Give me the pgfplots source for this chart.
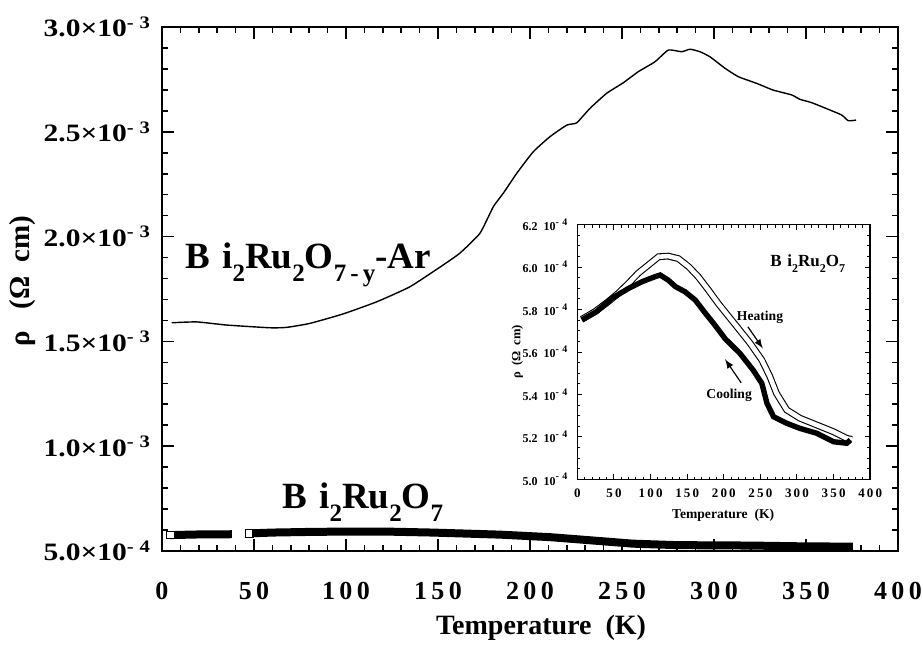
\documentclass[border=0pt]{standalone}
\usepackage{fontspec}
\setmainfont{Liberation Serif}
\newfontfamily\wide[FakeStretch=1.18]{Liberation Serif}
\usepackage{pgfplots}
\pgfplotsset{compat=1.18}
\newcommand\ex[1]{\textsuperscript{-\,\,#1}}
\newcommand\bigsub[1]{\raisebox{-6.5pt}{\fontsize{12.5}{12}\selectfont #1}}
\newcommand\smallsub[1]{\raisebox{-3pt}{\fontsize{6}{6}\selectfont #1}}
\begin{document}
\begin{tikzpicture}
\useasboundingbox (-81pt,-47pt) rectangle (380.5pt,275.5pt);
\begin{axis}[
  at={(0pt,0pt)}, anchor=south west,
  scale only axis, width=368pt, height=262pt,
  xmin=0, xmax=400, ymin=5, ymax=30,
  xtick={0,50,...,400}, minor x tick num=4,
  ytick={5,10,...,30}, minor y tick num=4,
  xticklabels={0,5\,0,1\,0\,0,1\,5\,0,2\,0\,0,2\,5\,0,3\,0\,0,3\,5\,0,4\,0\,0},
  yticklabels={5.0×10\ex{4},1.0×10\ex{3},1.5×10\ex{3},2.0×10\ex{3},2.5×10\ex{3},3.0×10\ex{3}},
  tick align=inside,
  major tick length=6pt, minor tick length=3pt,
  axis line style={line width=1pt},
  every tick/.style={black, line width=0.8pt},
  xticklabel style={font=\bfseries\fontsize{13}{13}\selectfont, yshift=-12pt},
  yticklabel style={font=\wide\bfseries\fontsize{12.5}{13}\selectfont, xshift=-2pt},
  xlabel={Temperature\ \ (K)},
  ylabel={ρ\ \ \ (Ω\ \ cm)},
  every axis x label/.style={at={(axis description cs:0.515,-0.146)}, anchor=center, font=\bfseries\fontsize{14}{14}\selectfont},
  every axis y label/.style={at={(axis description cs:-0.189,0.515)}, anchor=center, rotate=90, font=\bfseries\fontsize{14.5}{14}\selectfont},
  clip=false,
]
% Bi2Ru2O7-y-Ar (units 1e-4 Ohm cm)
\addplot[black, line width=0.7pt, smooth, tension=0.3] coordinates {
(5.3,15.89)(18.9,15.93)(35.2,15.78)(58.7,15.65)(67.8,15.67)(80.4,15.86)
(98.4,16.31)(116.7,16.89)(134.8,17.61)(152.7,18.64)(162,19.22)(172.8,20.16)
(180.1,21.43)(185.5,22.07)(192.8,23.02)(201.8,24.05)(210.9,24.77)(220,25.32)
(225.4,25.43)(232.6,26.12)(241.7,26.84)(250.7,27.34)(258.9,27.87)(267.9,28.34)
(275.2,28.90)(282.4,28.82)(287,28.94)(292.4,28.82)(297.8,28.58)(306,28.03)
(313.2,27.63)(323.2,27.31)(332.2,26.99)(342.2,26.76)(346.7,26.55)(353.1,26.39)
(363,26.04)(369.4,25.80)(373,25.53)(377.2,25.56)};
% Bi2Ru2O7 band
\addplot[black, line width=4pt] coordinates {(4.7,5.76)(20,5.79)(38,5.80)};
\addplot[black, line width=4pt] coordinates {
(47.5,5.84)(60,5.88)(80,5.91)(102,5.93)(120,5.93)(147,5.88)(184,5.78)(211,5.66)
(230,5.53)(256,5.35)(280,5.28)(320,5.26)(350,5.22)(375.5,5.21)};
\addplot[only marks, mark=square*, mark size=1.9pt, mark options={fill=white, draw=black, line width=0.6pt}] coordinates {(4.7,5.76)(47.4,5.84)};
\node[anchor=base west, inner sep=0pt, font=\bfseries\fontsize{18.5}{19}\selectfont] at (axis cs:12.5,18.5) {B\,\,i\bigsub{2}Ru\bigsub{2}O\bigsub{7\,-\,y}-Ar};
\node[anchor=base west, inner sep=0pt, font=\bfseries\fontsize{18.5}{19}\selectfont] at (axis cs:65.2,7.05) {B\,\,i\bigsub{2}Ru\bigsub{2}O\bigsub{7}};
\end{axis}
\begin{axis}[
  at={(207.7pt,35.85pt)}, anchor=south west,
  scale only axis, width=146.4pt, height=127.3pt,
  xmin=0, xmax=400, ymin=5.0, ymax=6.2,
  axis background/.style={fill=white},
  xtick={0,50,...,400}, minor x tick num=4,
  ytick={5.0,5.2,...,6.2}, minor y tick num=3,
  xticklabels={0,5\,0,1\,0\,0,1\,5\,0,2\,0\,0,2\,5\,0,3\,0\,0,3\,5\,0,4\,0\,0},
  yticklabels={5.0\ \ 10\ex{4},5.2\ \ 10\ex{4},5.4\ \ 10\ex{4},5.6\ \ 10\ex{4},5.8\ \ 10\ex{4},6.0\ \ 10\ex{4},6.2\ \ 10\ex{4}},
  tick align=inside,
  major tick length=2.5pt, minor tick length=1.4pt,
  axis line style={line width=0.7pt},
  every tick/.style={black, line width=0.5pt},
  xticklabel style={font=\bfseries\fontsize{6.5}{7}\selectfont, yshift=-1pt},
  yticklabel style={font=\bfseries\fontsize{6}{7}\selectfont, xshift=-1pt},
  xlabel={Temperature\ \ (K)},
  ylabel={ρ\ \ (Ω\ \ cm)},
  every axis x label/.style={at={(axis description cs:0.498,-0.140)}, anchor=center, font=\bfseries\fontsize{6.8}{7}\selectfont},
  every axis y label/.style={at={(axis description cs:-0.205,0.5)}, anchor=center, rotate=90, font=\bfseries\fontsize{6.3}{7}\selectfont},
]
% Heating (open symbols)
\addplot[black, line width=0.55pt, double=white, double distance=2.3pt] coordinates {
(6,5.754)(24,5.790)(42,5.837)(56,5.877)(70,5.924)(83,5.971)(97,6.010)(111,6.049)
(124,6.052)(138,6.040)(152,6.002)(165,5.955)(179,5.892)(193,5.826)(218,5.719)
(236,5.641)(252,5.562)(263,5.484)(272,5.405)(286,5.327)(304,5.288)(327,5.256)
(350,5.224)(368,5.193)(375,5.188)};
% Cooling (filled symbols)
\addplot[black, line width=2.7pt] coordinates {
(6,5.751)(26,5.790)(47,5.853)(70,5.900)(88,5.931)(106,5.955)(113,5.963)(124,5.939)
(134,5.908)(147,5.884)(161,5.845)(175,5.782)(186,5.735)(202,5.662)(222,5.594)
(240,5.515)(252,5.452)(259,5.358)(268,5.295)(286,5.264)(304,5.240)(327,5.217)
(350,5.177)(368,5.170)(373,5.185)};
\node[font=\bfseries\fontsize{8.5}{9}\selectfont] at (axis cs:314.6,6.019) {B\,\,i\smallsub{2}Ru\smallsub{2}O\smallsub{7}};
\node[font=\bfseries\fontsize{6.8}{7}\selectfont] at (axis cs:249.5,5.766) {Heating};
\node[font=\bfseries\fontsize{6.8}{7}\selectfont] at (axis cs:207.3,5.397) {Cooling};
\draw[-latex, line width=0.6pt] (axis cs:232.9,5.719) -- (axis cs:253.3,5.617);
\draw[-latex, line width=0.6pt] (axis cs:223.7,5.455) -- (axis cs:201.7,5.566);
\end{axis}
\end{tikzpicture}
\end{document}
